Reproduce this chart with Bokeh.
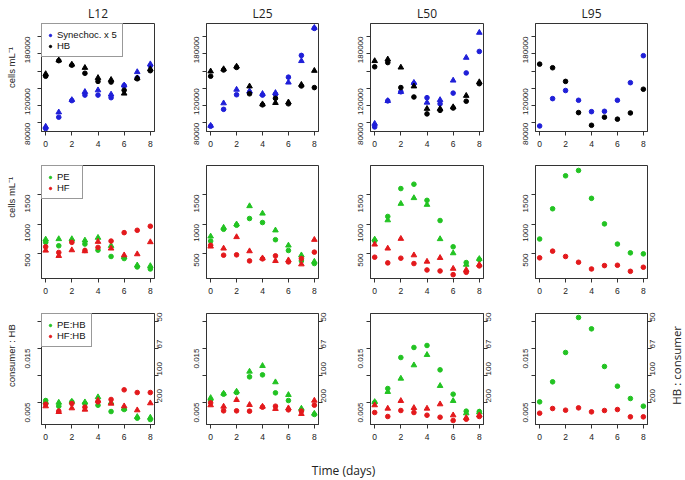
import math
from bokeh.plotting import figure
from bokeh.models import Range1d, FixedTicker, LinearAxis, Label, Legend, LegendItem
from bokeh.layouts import column, row
from bokeh.embed import file_html
from bokeh.resources import INLINE

# ---------------- data ----------------
days = [0, 1, 2, 3, 4, 5, 6, 7, 8]
panels = ["L12", "L25", "L50", "L95"]

# Row 1: cells mL-1 (Synechococcus x 5 and HB); c = circles, t = triangles
syn_L12_c = [73300, 86500, 105700, 112100, 112100, 109100, 123100, 132100, 146100]
syn_L12_t = [75600, 92200, 106500, 115900, 117800, 112900, 123500, 138900, 148000]
hb_L12_c = [134000, 152000, 146800, 137400, 128000, 127200, 117800, 131000, 140400]
hb_L12_t = [136600, 152500, 147600, 143800, 132100, 129900, 114000, 131700, 142300]

syn_L25_c = [76000, 95600, 112500, 115200, 112100, 113000, 132900, 158100, 189400]
syn_L25_t = [76700, 102700, 118500, 116600, 113600, 114700, 126800, 151700, 190200]
hb_L25_c = [134000, 141200, 144200, 113600, 100800, 108400, 102000, 122700, 120800]
hb_L25_t = [139700, 142300, 145300, 122300, 101600, 103100, 103800, 124200, 140400]

syn_L50_c = [75200, 105400, 115900, 125300, 109100, 102000, 114400, 137800, 162700]
syn_L50_t = [79000, 105400, 115900, 126500, 103500, 106500, 129100, 155500, 184500]
hb_L50_c = [144900, 149800, 120800, 109900, 90300, 94400, 97100, 105000, 125300]
hb_L50_t = [151700, 153600, 144200, 122300, 96300, 96300, 98200, 111400, 127200]

syn_L95 = [76300, 108000, 117400, 106100, 92900, 93300, 106100, 126500, 157800]
hb_L95 = [148000, 143800, 128000, 91800, 77100, 86500, 84200, 91400, 118900]

# Row 2: cells mL-1 (PE and HF)
pe_L12_c = [689, 631, 717, 660, 557, 449, 414, 271, 237]
pe_L12_t = [740, 746, 746, 723, 769, 631, 443, 300, 289]
hf_L12_c = [614, 517, 689, 551, 603, 711, 854, 894, 963]
hf_L12_t = [551, 460, 557, 540, 700, 586, 471, 489, 694]

pe_L25_c = [711, 911, 980, 1094, 1026, 734, 551, 374, 329]
pe_L25_t = [791, 940, 997, 1306, 1180, 894, 637, 471, 363]
hf_L25_c = [640, 471, 477, 374, 409, 460, 357, 414, 523]
hf_L25_t = [620, 586, 780, 540, 420, 374, 386, 317, 734]

pe_L50_c = [717, 1129, 1603, 1677, 1403, 1060, 614, 346, 397]
pe_L50_t = [740, 1066, 1346, 1443, 1329, 746, 506, 311, 409]
hf_L50_c = [437, 340, 420, 329, 220, 203, 140, 180, 289]
hf_L50_t = [654, 586, 751, 471, 363, 426, 243, 220, 311]

pe_L95 = [746, 1260, 1820, 1911, 1437, 1003, 660, 511, 494]
hf_L95 = [426, 540, 449, 351, 237, 294, 300, 197, 266]

# Row 3: consumer : HB ratios
peh_L12_c = [0.00537, 0.00432, 0.00512, 0.00481, 0.00450, 0.00333, 0.00370, 0.00210, 0.00185]
peh_L12_t = [0.00512, 0.00500, 0.00518, 0.00506, 0.00600, 0.00500, 0.00389, 0.00235, 0.00222]
hfh_L12_c = [0.00469, 0.00340, 0.00481, 0.00414, 0.00512, 0.00556, 0.00735, 0.00685, 0.00685]
hfh_L12_t = [0.00432, 0.00327, 0.00395, 0.00370, 0.00537, 0.00481, 0.00432, 0.00358, 0.00488]

peh_L25_c = [0.00543, 0.00654, 0.00685, 0.00975, 0.01012, 0.00679, 0.00537, 0.00358, 0.00278]
peh_L25_t = [0.00586, 0.00667, 0.00704, 0.01074, 0.01179, 0.00877, 0.00642, 0.00389, 0.00296]
hfh_L25_c = [0.00494, 0.00346, 0.00346, 0.00340, 0.00414, 0.00432, 0.00364, 0.00340, 0.00451]
hfh_L25_t = [0.00451, 0.00426, 0.00549, 0.00457, 0.00426, 0.00383, 0.00395, 0.00290, 0.00537]

peh_L50_c = [0.00500, 0.00759, 0.01333, 0.01519, 0.01556, 0.01105, 0.00654, 0.00340, 0.00333]
peh_L50_t = [0.00512, 0.00698, 0.00944, 0.01191, 0.01383, 0.00809, 0.00531, 0.00302, 0.00321]
hfh_L50_c = [0.00315, 0.00241, 0.00352, 0.00315, 0.00265, 0.00228, 0.00167, 0.00191, 0.00241]
hfh_L50_t = [0.00451, 0.00389, 0.00531, 0.00401, 0.00389, 0.00469, 0.00265, 0.00216, 0.00265]

peh_L95 = [0.00512, 0.00883, 0.01426, 0.02074, 0.01864, 0.01167, 0.00802, 0.00574, 0.00432]
hfh_L95 = [0.00302, 0.00389, 0.00358, 0.00401, 0.00327, 0.00352, 0.00370, 0.00235, 0.00235]

x_ticks = [0, 2, 4, 6, 8]
r1_ticks = [80000, 100000, 120000, 140000, 160000, 180000]
r1_labels = ["80000", "", "120000", "", "", "180000"]
r2_ticks = [500, 1000, 1500]
r2_labels = ["500", "1000", "1500"]
r3_ticks = [0.005, 0.01, 0.015, 0.02]
r3_labels_left = ["0.005", "", "0.015", ""]
r3_labels_right = ["200", "100", "67", "50"]

legend_labels = [("Synechoc. x 5", "HB"), ("PE", "HF"), ("PE:HB", "HF:HB")]
row_titles = ["cells mL\u207b\u00b9", "cells mL\u207b\u00b9", "consumer : HB"]
right_title = "HB : consumer"
x_title = "Time (days)"

data = [
    {"L12": (syn_L12_c, syn_L12_t, hb_L12_c, hb_L12_t),
     "L25": (syn_L25_c, syn_L25_t, hb_L25_c, hb_L25_t),
     "L50": (syn_L50_c, syn_L50_t, hb_L50_c, hb_L50_t),
     "L95": (syn_L95, None, hb_L95, None)},
    {"L12": (pe_L12_c, pe_L12_t, hf_L12_c, hf_L12_t),
     "L25": (pe_L25_c, pe_L25_t, hf_L25_c, hf_L25_t),
     "L50": (pe_L50_c, pe_L50_t, hf_L50_c, hf_L50_t),
     "L95": (pe_L95, None, hf_L95, None)},
    {"L12": (peh_L12_c, peh_L12_t, hfh_L12_c, hfh_L12_t),
     "L25": (peh_L25_c, peh_L25_t, hfh_L25_c, hfh_L25_t),
     "L50": (peh_L50_c, peh_L50_t, hfh_L50_c, hfh_L50_t),
     "L95": (peh_L95, None, hfh_L95, None)},
]

# ---------------- style ----------------
BLUE = "#1f1fd8"
BLACK = "#000000"
GREEN = "#22c322"
RED = "#e3191c"
row_colors = [(BLUE, BLACK), (GREEN, RED), (GREEN, RED)]
AX = "#333333"
TICK_FONT = "Liberation Sans"
ANNOT_FONT = "Open Sans"

y_ranges = [(69900, 195100), (75, 1995), (0.00093, 0.02148)]
LEFT_W = 18
RIGHT_W = 22
col_w = [160, 165, 165, 177]
col_bl = [23, 28, 27, 27]
col_br = [24, 25, 25, 38]
row_h = [152, 146, 150]
row_bt = [20, 13, 15]
row_bb = [21, 20, 24]
row_title_y = [90, 105, 93]   # distance of the side title centre from the row bottom (px)


def style_axis(ax, vertical=False, standoff=5):
    ax.major_tick_out = 4
    ax.major_tick_in = 0
    ax.minor_tick_out = 0
    ax.minor_tick_in = 0
    ax.axis_line_color = AX
    ax.major_tick_line_color = AX
    ax.major_label_text_font = TICK_FONT
    ax.major_label_text_color = "#222222"
    ax.major_label_standoff = standoff
    if vertical:
        ax.major_label_orientation = math.pi / 2
        ax.major_label_text_font_size = "8px"
    else:
        ax.major_label_text_font_size = "8.5px"


def text_strip(w, h, text, x, y, font, size):
    s = figure(width=w, height=h, x_range=Range1d(0, w), y_range=Range1d(0, h),
               output_backend="svg", toolbar_location=None,
               x_axis_type=None, y_axis_type=None,
               min_border_left=0, min_border_right=0, min_border_top=0, min_border_bottom=0)
    s.grid.visible = False
    s.outline_line_color = None
    s.add_layout(Label(x=x, y=y, text=text, angle=math.pi / 2,
                       text_align="center", text_baseline="middle",
                       text_font=font, text_font_size=size, text_color="#222222"))
    return s


def make_panel(r, c):
    name = panels[c]
    w = col_w[c]
    br = col_br[c]
    if r == 2 and c == 3:
        w = col_w[c] - RIGHT_W
        br = col_br[c] - RIGHT_W
    p = figure(width=w, height=row_h[r],
               x_range=Range1d(-0.32, 8.32), y_range=Range1d(*y_ranges[r]),
               output_backend="svg", toolbar_location=None,
               min_border_left=col_bl[c], min_border_right=br,
               min_border_top=row_bt[r], min_border_bottom=row_bb[r])
    p.grid.visible = False
    p.outline_line_color = AX
    p.outline_line_width = 1
    p.background_fill_color = "white"
    p.border_fill_color = "white"

    if r == 0:
        p.title.text = name
        p.title.align = "center"
        p.title.text_font = ANNOT_FONT
        p.title.text_font_size = "12px"
        p.title.text_font_style = "normal"
        p.title.text_color = "#222222"
        p.title.standoff = 4

    xa = p.xaxis[0]
    xa.ticker = FixedTicker(ticks=x_ticks)
    style_axis(xa, standoff=5)
    ya = p.yaxis[0]
    style_axis(ya, vertical=True, standoff=10 if c == 0 else 6)
    if r == 0:
        ya.ticker = FixedTicker(ticks=r1_ticks)
        ya.major_label_overrides = {t: l for t, l in zip(r1_ticks, r1_labels)}
    elif r == 1:
        ya.ticker = FixedTicker(ticks=r2_ticks)
        ya.major_label_overrides = {t: l for t, l in zip(r2_ticks, r2_labels)}
    else:
        ya.ticker = FixedTicker(ticks=r3_ticks)
        ya.major_label_overrides = {t: l for t, l in zip(r3_ticks, r3_labels_left)}
        ra = LinearAxis(ticker=FixedTicker(ticks=r3_ticks))
        ra.major_label_overrides = {t: l for t, l in zip(r3_ticks, r3_labels_right)}
        style_axis(ra, vertical=True, standoff=1)
        p.add_layout(ra, "right")

    s1c, s1t, s2c, s2t = data[r][name]
    col1, col2 = row_colors[r]
    rend1 = p.scatter(days, s1c, marker="circle", size=4.6, color=col1)
    if s1t is not None:
        p.scatter(days, s1t, marker="triangle", size=5.6, color=col1)
    rend2 = p.scatter(days, s2c, marker="circle", size=4.6, color=col2)
    if s2t is not None:
        p.scatter(days, s2t, marker="triangle", size=5.6, color=col2)

    if c == 0:
        l1, l2 = legend_labels[r]
        leg = Legend(items=[LegendItem(label=l1, renderers=[rend1]),
                            LegendItem(label=l2, renderers=[rend2])],
                     location="top_left", margin=0, padding=5, spacing=0,
                     glyph_width=6, glyph_height=10, label_height=11,
                     label_standoff=4, border_line_color=AX, border_line_width=1,
                     background_fill_color="white", background_fill_alpha=1,
                     label_text_font=TICK_FONT, label_text_font_size="9.5px",
                     label_text_color="#111111")
        p.add_layout(leg)
    return p


rows = []
for r in range(3):
    kids = [text_strip(LEFT_W, row_h[r], row_titles[r], 11, row_title_y[r],
                       TICK_FONT, "9.5px")]
    kids += [make_panel(r, c) for c in range(4)]
    if r == 2:
        kids.append(text_strip(RIGHT_W, row_h[r], right_title, 13, 80,
                               ANNOT_FONT, "11.5px"))
    rows.append(row(*kids))

tf = figure(width=685, height=31, x_range=Range1d(0, 685), y_range=Range1d(0, 31),
            output_backend="svg", toolbar_location=None,
            x_axis_type=None, y_axis_type=None,
            min_border_left=0, min_border_right=0, min_border_top=0, min_border_bottom=0)
tf.grid.visible = False
tf.outline_line_color = None
tf.add_layout(Label(x=343, y=9, text=x_title,
                    text_align="center", text_baseline="middle",
                    text_font=ANNOT_FONT, text_font_size="12px", text_color="#222222"))

layout = column(*rows, tf)
open("out.html", "w").write(file_html(layout, INLINE))
